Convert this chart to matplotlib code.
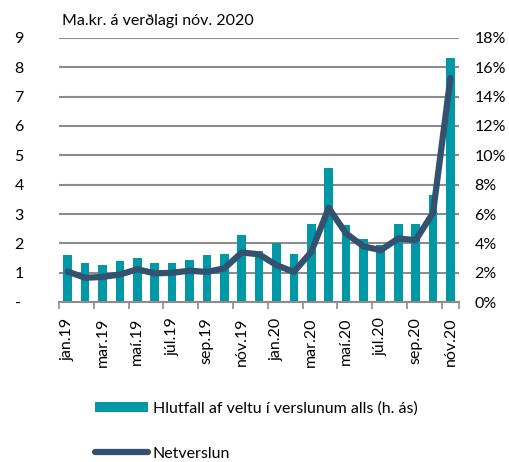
import matplotlib
matplotlib.use("Agg")
import matplotlib.pyplot as plt
from matplotlib.patches import Patch
from matplotlib.lines import Line2D
import numpy as np

plt.rcParams['font.family'] = ['Lato', 'DejaVu Sans']

months = ["jan.19", "feb.19", "mar.19", "apr.19", "maí.19", "jún.19", "júl.19", "ágú.19",
          "sep.19", "okt.19", "nóv.19", "des.19", "jan.20", "feb.20", "mar.20", "apr.20",
          "maí.20", "jún.20", "júl.20", "ágú.20", "sep.20", "okt.20", "nóv.20"]
share_pct = [3.2, 2.66, 2.5, 2.8, 3.0, 2.7, 2.7, 2.9, 3.2, 3.3, 4.57, 3.5, 4.0, 3.3,
             5.29, 9.12, 5.24, 4.33, 3.87, 5.29, 5.29, 7.31, 16.6]
online = [1.04, 0.83, 0.86, 0.94, 1.12, 0.98, 1.0, 1.07, 1.03, 1.15, 1.69, 1.63, 1.26, 1.03,
          1.71, 3.21, 2.34, 1.90, 1.77, 2.17, 2.11, 3.04, 7.63]
left_ticks = [0, 1, 2, 3, 4, 5, 6, 7, 8, 9]
left_labels = ["-", "1", "2", "3", "4", "5", "6", "7", "8", "9"]
right_ticks = [0, 2, 4, 6, 8, 10, 12, 14, 16, 18]

bar_color = "#0097A7"
line_color = "#34526F"
grid_color = "#8C8C8C"
fs = 11.5

fig = plt.figure(figsize=(5.09, 4.62), dpi=100)
ax = fig.add_axes([0.116, 0.346, 0.786, 0.572])
ax2 = ax.twinx()
ax.set_zorder(2)
ax2.set_zorder(1)
ax.patch.set_visible(False)

x = np.arange(len(months))
ax2.bar(x, share_pct, width=0.5, color=bar_color, zorder=3)
ax2.set_ylim(0, 18)
ax2.set_yticks(right_ticks)
ax2.set_yticklabels([f"{t}%" for t in right_ticks])
ax2.yaxis.grid(True, color=grid_color, linewidth=1.5)
ax2.set_axisbelow(True)
ax2.tick_params(axis='y', length=0, pad=11, labelsize=fs)

ax.plot(x, online, color=line_color, linewidth=4.5, solid_capstyle='round', solid_joinstyle='round')
ax.set_ylim(0, 9)
ax.set_yticks(left_ticks)
ax.set_yticklabels(left_labels)
ax.tick_params(axis='y', length=0, pad=32, labelsize=fs)
for lab in ax.get_yticklabels():
    lab.set_horizontalalignment('left')

ax.set_xlim(-0.5, len(months) - 0.5)
major = list(np.arange(-0.5, len(months), 2)) + [len(months) - 0.5]
ax.set_xticks(major)
ax.set_xticklabels([""] * len(major))
ax.set_xticks(x[::2], minor=True)
ax.set_xticklabels([months[i] for i in x[::2]], minor=True, rotation=90, fontsize=fs)
ax.tick_params(axis='x', which='major', length=5, width=1.2, color=grid_color)
ax.tick_params(axis='x', which='minor', length=0, pad=11)

for a in (ax, ax2):
    for s in ['top', 'left', 'right']:
        a.spines[s].set_visible(False)
ax2.spines['bottom'].set_visible(False)
ax.spines['bottom'].set_color(grid_color)
ax.spines['bottom'].set_linewidth(1.5)

fig.text(0.122, 0.955, "Ma.kr. á verðlagi nóv. 2020", fontsize=fs, va='center', ha='left')

handles = [Patch(facecolor=bar_color, edgecolor='none'),
           Line2D([0], [0], color=line_color, linewidth=4.5, solid_capstyle='round')]
labels = ["Hlutfall af veltu í verslunum alls (h. ás)", "Netverslun"]
fig.legend(handles, labels, loc='lower left', bbox_to_anchor=(0.175, -0.011),
           bbox_transform=fig.transFigure,
           frameon=False, fontsize=fs, handlelength=3.3, handleheight=0.6,
           handletextpad=0.3, labelspacing=1.95, borderaxespad=0)

fig.savefig("out.png", dpi=100)
